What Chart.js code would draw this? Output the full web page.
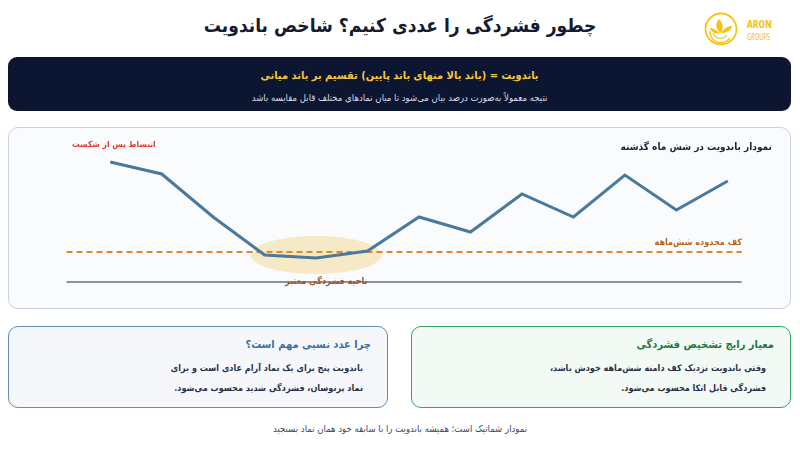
<!DOCTYPE html>
<html lang="fa">
<head>
<meta charset="utf-8">
<script src="https://cdn.jsdelivr.net/npm/chart.js"></script>
<style>
  html, body { margin: 0; padding: 0; background: #fff; }
  body { width: 800px; height: 450px; position: relative; overflow: hidden; font-family: "DejaVu Sans Condensed", "DejaVu Sans", sans-serif; font-stretch: condensed; }
  .abs { position: absolute; white-space: nowrap; }
  .rtl { direction: rtl; }
  #title { left: 0; width: 800px; top: 14px; text-align: center; font-size: 19px; font-weight: bold; color: #161c2e; }
  #formula { left: 8px; top: 57px; width: 783px; height: 54px; background: #0d1631; border-radius: 9px; }
  #formula .l1 { left: 0; width: 783px; top: 12px; text-align: center; font-size: 11px; font-weight: bold; color: #f4c542; }
  #formula .l2 { left: 0; width: 783px; top: 35px; text-align: center; font-size: 9.5px; color: #d9dce6; }
  #card { left: 8px; top: 127px; width: 781px; height: 180px; border: 1.5px solid #c9d2df; border-radius: 10px; background: #fafbfd; }
  #chartBox { left: 8px; top: 127px; width: 784px; height: 182px; }
  .box { top: 326px; height: 80px; border-radius: 10px; }
  #why { left: 8px; width: 378px; border: 1.5px solid #5e8db5; background: #f5f7fb; }
  #rule { left: 411px; width: 378px; border: 1.5px solid #33a85a; background: #f3f9f5; }
  .box .h { right: 16px; top: 11px; font-size: 11px; font-weight: bold; }
  .box .b { right: 24px; font-size: 9px; font-weight: bold; color: #2b3245; }
  #note { left: 0; width: 800px; top: 423px; text-align: center; font-size: 9.5px; color: #3b4560; }
</style>
</head>
<body>
<div id="title" class="abs rtl">چطور فشردگی را عددی کنیم؟ شاخص باندویت</div>

<svg class="abs" style="left:703px; top:11px" width="90" height="38" viewBox="0 0 90 38">
  <circle cx="18" cy="18" r="15.5" fill="none" stroke="#f3c316" stroke-width="1.8"/>
  <path d="M7 20 A11 11 0 0 0 27 27" fill="none" stroke="#f3c316" stroke-width="1.4"/>
  <path d="M10 22 A8 8 0 0 0 24 24" fill="none" stroke="#f3c316" stroke-width="1.1"/>
  <path d="M18 22 C12 18 12 12 16 8 C20 12 21 17 18 22 Z" fill="#f3c316"/>
  <path d="M18 22 C22 16 26 15 29 15 C28 20 23 22 18 22 Z" fill="#f3c316"/>
  <path d="M17 22 C12 18 9 17 7 17 C8 21 12 23 17 22 Z" fill="#f3c316"/>
  <text x="44" y="17" font-family="Open Sans, sans-serif" font-size="11" font-weight="bold" fill="#f3c316">ARON</text>
  <text x="44" y="29" font-family="Open Sans, sans-serif" font-size="8" fill="#f3c316">GROUPS</text>
</svg>

<div id="formula" class="abs">
  <div class="abs rtl l1">باندویت = (باند بالا منهای باند پایین) تقسیم بر باند میانی</div>
  <div class="abs rtl l2">نتیجه معمولاً به‌صورت درصد بیان می‌شود تا میان نمادهای مختلف قابل مقایسه باشد</div>
</div>

<div id="card" class="abs"></div>
<div id="chartBox" class="abs"><canvas id="chart"></canvas></div>

<div class="abs rtl" style="left:72px; top:139px; font-size:8.5px; font-weight:bold; color:#e23b35">انبساط پس از شکست</div>
<div class="abs rtl" style="right:28px; top:141px; font-size:10px; font-weight:bold; color:#1c2233">نمودار باندویت در شش ماه گذشته</div>
<div class="abs rtl" style="right:58px; top:237px; font-size:9px; font-weight:bold; color:#b0641f">کف محدوده شش‌ماهه</div>
<div class="abs rtl" style="left:285px; top:276px; font-size:9px; font-weight:bold; color:#a0521c">ناحیه فشردگی معتبر</div>

<div id="why" class="abs box">
  <div class="abs rtl h" style="color:#3f6f9c">چرا عدد نسبی مهم است؟</div>
  <div class="abs rtl b" style="top:36px">باندویت پنج برای یک نماد آرام عادی است و برای</div>
  <div class="abs rtl b" style="top:56px">نماد پرنوسان، فشردگی شدید محسوب می‌شود.</div>
</div>
<div id="rule" class="abs box">
  <div class="abs rtl h" style="color:#1f7a3d">معیار رایج تشخیص فشردگی</div>
  <div class="abs rtl b" style="top:36px">وقتی باندویت نزدیک کف دامنه شش‌ماهه خودش باشد،</div>
  <div class="abs rtl b" style="top:56px">فشردگی قابل اتکا محسوب می‌شود.</div>
</div>

<div id="note" class="abs rtl">نمودار شماتیک است؛ همیشه باندویت را با سابقه خود همان نماد بسنجید</div>

<script>
// schematic bandwidth, last six months (13 samples)
const steps = [0, 1, 2, 3, 4, 5, 6, 7, 8, 9, 10, 11, 12];
const bandwidth = [24, 21.6, 13, 5.4, 4.8, 6.2, 13, 10, 17.6, 13, 21.4, 14.4, 20.2];
const floorLevel = 6;     // six-month floor (dashed)
const baseLevel = 0;      // axis baseline
const squeezeZone = { from: 3, to: 5, level: 5.4 };

const xMin = -0.85, xMax = 12.27;

// highlight ellipse behind the squeeze segment
const squeezeGlow = {
    id: 'squeezeGlow',
    beforeDatasetsDraw(chart) {
        const { ctx, scales: { x, y } } = chart;
        const cx = x.getPixelForValue((squeezeZone.from + squeezeZone.to) / 2);
        const cy = y.getPixelForValue(squeezeZone.level);
        const rx = (x.getPixelForValue(squeezeZone.to) - x.getPixelForValue(squeezeZone.from)) / 2 + 14;
        ctx.save();
        ctx.beginPath();
        ctx.ellipse(cx, cy, rx, 19, 0, 0, Math.PI * 2);
        ctx.fillStyle = 'rgba(244, 222, 160, 0.6)';
        ctx.fill();
        ctx.restore();
    }
};

const canv = document.getElementById('chart');
const chart = new Chart(canv, {
    type: 'line',
    data: {
        datasets: [
            {
                data: steps.map((s, i) => ({ x: s, y: bandwidth[i] })),
                borderColor: '#4a7a9b', borderWidth: 3, pointRadius: 0, tension: 0, order: 0,
            },
            {
                data: [{ x: xMin, y: floorLevel }, { x: xMax, y: floorLevel }],
                borderColor: '#e3862b', borderWidth: 2, borderDash: [6, 4], pointRadius: 0, order: 1,
            },
            {
                data: [{ x: xMin, y: baseLevel }, { x: xMax, y: baseLevel }],
                borderColor: '#8893a5', borderWidth: 2, pointRadius: 0, order: 2,
            },
        ]
    },
    options: {
        responsive: true,
        maintainAspectRatio: false,
        animation: false,
        layout: { padding: { left: 58.5, right: 50.3, top: 25, bottom: 27 } },
        scales: {
            x: { type: 'linear', min: xMin, max: xMax, display: false },
            y: { min: 0, max: 26, display: false },
        },
        elements: { line: { borderCapStyle: 'butt' } },
        plugins: { legend: { display: false }, tooltip: { enabled: false } },
        clip: false,
    },
    plugins: [squeezeGlow]
});
</script>
</body>
</html>
